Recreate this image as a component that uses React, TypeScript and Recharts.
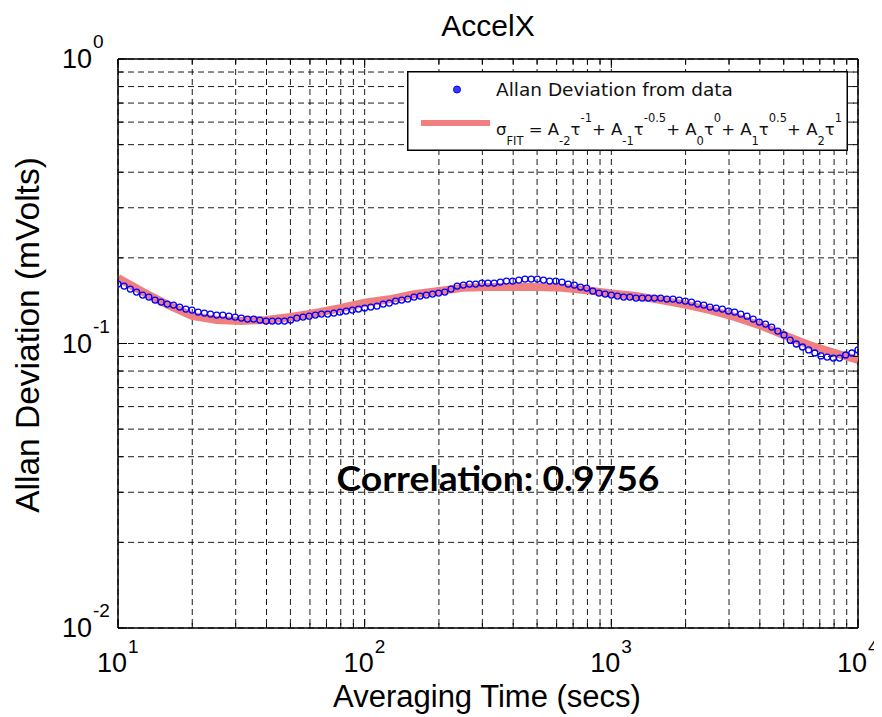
import React from 'react';
import {
  ComposedChart,
  Scatter,
  Line,
  XAxis,
  YAxis,
  CartesianGrid,
  ReferenceLine,
  Legend,
} from 'recharts';

// ---- data ----
const tauData = [
  10, 10.59, 11.22, 11.89, 12.59, 13.34, 14.13, 14.96, 15.85, 16.79,
  17.78, 18.84, 19.95, 21.13, 22.39, 23.71, 25.12, 26.61, 28.18, 29.85,
  31.62, 33.5, 35.48, 37.58, 39.81, 42.17, 44.67, 47.32, 50.12, 53.09,
  56.23, 59.57, 63.1, 66.83, 70.79, 74.99, 79.43, 84.14, 89.13, 94.41,
  100, 105.9, 112.2, 118.9, 125.9, 133.4, 141.3, 149.6, 158.5, 167.9,
  177.8, 188.4, 199.5, 211.3, 223.9, 237.1, 251.2, 266.1, 281.8, 298.5,
  316.2, 335, 354.8, 375.8, 398.1, 421.7, 446.7, 473.2, 501.2, 530.9,
  562.3, 595.7, 631, 668.3, 707.9, 749.9, 794.3, 841.4, 891.3, 944.1,
  1000, 1059, 1122, 1189, 1259, 1334, 1413, 1496, 1585, 1679,
  1778, 1884, 1995, 2113, 2239, 2371, 2512, 2661, 2818, 2985,
  3162, 3350, 3548, 3758, 3981, 4217, 4467, 4732, 5012, 5309,
  5623, 5957, 6310, 6683, 7079, 7499, 7943, 8414, 8913, 9441, 10000,
];
const devValues = [
  0.1618, 0.1592, 0.1554, 0.1516, 0.148, 0.1456, 0.1421, 0.1398, 0.1376, 0.1365,
  0.1343, 0.1321, 0.1311, 0.129, 0.1279, 0.1269, 0.1259, 0.1259, 0.1248, 0.1238,
  0.1228, 0.1219, 0.1219, 0.1209, 0.1199, 0.1199, 0.1199, 0.1199, 0.1209, 0.1228,
  0.1238, 0.1248, 0.1259, 0.1269, 0.1269, 0.1279, 0.129, 0.13, 0.1311, 0.1321,
  0.1332, 0.1343, 0.1354, 0.1376, 0.1387, 0.141, 0.1421, 0.1433, 0.1456, 0.1468,
  0.148, 0.1492, 0.1504, 0.1516, 0.1554, 0.1592, 0.1605, 0.1618, 0.1618, 0.1631,
  0.1631, 0.1631, 0.1644, 0.1658, 0.1658, 0.1671, 0.1685, 0.1685, 0.1685, 0.1671,
  0.1658, 0.1658, 0.1644, 0.1618, 0.1605, 0.1579, 0.1566, 0.1529, 0.1504, 0.1492,
  0.148, 0.1468, 0.1456, 0.1456, 0.1444, 0.1444, 0.1444, 0.1444, 0.1444, 0.1433,
  0.1433, 0.1421, 0.141, 0.1398, 0.1376, 0.1365, 0.1343, 0.1332, 0.1321, 0.13,
  0.129, 0.1269, 0.1248, 0.1219, 0.1189, 0.117, 0.1142, 0.1106, 0.1071, 0.1028,
  0.0996, 0.0972, 0.0949, 0.0926, 0.0904, 0.0896, 0.0889, 0.0889, 0.0911, 0.0926, 0.0949,
];
const fitTau = [
  10, 12.59, 15.85, 19.95, 25.12, 31.62, 39.81, 50.12, 63.1, 79.43,
  100, 125.9, 158.5, 199.5, 251.2, 316.2, 398.1, 501.2, 631, 794.3,
  1000, 1259, 1585, 1995, 2512, 3162, 3981, 5012, 6310, 7943, 10000,
];
const fitValues = [
  0.17, 0.152, 0.137, 0.125, 0.121, 0.12, 0.121, 0.124, 0.128, 0.133,
  0.139, 0.143, 0.149, 0.153, 0.157, 0.158, 0.158, 0.158, 0.157, 0.154,
  0.15, 0.147, 0.142, 0.137, 0.131, 0.124, 0.116, 0.107, 0.099, 0.093, 0.0875,
];

const xTicks = [
  10, 20, 30, 40, 50, 60, 70, 80, 90,
  100, 200, 300, 400, 500, 600, 700, 800, 900,
  1000, 2000, 3000, 4000, 5000, 6000, 7000, 8000, 9000, 10000,
];
const xMajor = [10, 100, 1000, 10000];
const xExponents = ['1', '2', '3', '4'];

const yTicks = [
  0.01, 0.02, 0.03, 0.04, 0.05, 0.06, 0.07, 0.08, 0.09,
  0.1, 0.2, 0.3, 0.4, 0.5, 0.6, 0.7, 0.8, 0.9, 1,
];
const yMajor = [0.01, 0.1, 1];
const yExponents = ['-2', '-1', '0'];

const titleText = 'AccelX';
const xLabelText = 'Averaging Time (secs)';
const yLabelText = 'Allan Deviation (mVolts)';
const correlationText = 'Correlation: 0.9756';
const legendDataText = 'Allan Deviation from data';

const devData = tauData.map((tau, i) => ({ tau, v: devValues[i] }));
const fitData = fitTau.map((tau, i) => ({ tau, v: fitValues[i] }));

// ---- layout ----
const W = 874;
const H = 709;
const PLOT_LEFT = 110;
const PLOT_RIGHT = 850;
const PLOT_TOP = 51;
const PLOT_BOTTOM = 620;
const FONT = '"Liberation Sans", Arial, sans-serif';

const XTick = (props: any) => {
  const { x, payload } = props;
  const idx = xMajor.indexOf(payload.value);
  const len = idx >= 0 ? 9 : 5;
  return (
    <g>
      <line x1={x} x2={x} y1={PLOT_BOTTOM} y2={PLOT_BOTTOM - len} stroke="#000" />
      <line x1={x} x2={x} y1={PLOT_TOP} y2={PLOT_TOP + len} stroke="#000" />
      {idx >= 0 && (
        <g fontFamily={FONT} fill="#000">
          <text x={x + 9} y={PLOT_BOTTOM + 44} textAnchor="end" fontSize={27}>
            10
          </text>
          <text x={x + 10} y={PLOT_BOTTOM + 25} textAnchor="start" fontSize={19}>
            {xExponents[idx]}
          </text>
        </g>
      )}
    </g>
  );
};

const YTick = (props: any) => {
  const { y, payload } = props;
  const idx = yMajor.indexOf(payload.value);
  const len = idx >= 0 ? 9 : 5;
  return (
    <g>
      <line x1={PLOT_LEFT} x2={PLOT_LEFT + len} y1={y} y2={y} stroke="#000" />
      <line x1={PLOT_RIGHT} x2={PLOT_RIGHT - len} y1={y} y2={y} stroke="#000" />
      {idx >= 0 && (
        <g fontFamily={FONT} fill="#000">
          <text x={84} y={y + 9} textAnchor="end" fontSize={27}>
            10
          </text>
          <text x={85} y={y - 11} textAnchor="start" fontSize={19}>
            {yExponents[idx]}
          </text>
        </g>
      )}
    </g>
  );
};

const Marker = (props: any) => {
  const { cx, cy } = props;
  if (cx == null || cy == null) return null;
  return <circle cx={cx} cy={cy} r={3} fill="none" stroke="#0000ff" strokeWidth={1.3} />;
};

const LegendBox = () => {
  const base = 64;
  const sub = 74;
  const sup = 51;
  const m = 16.5;
  const s = 11.5;
  const seg = (t: string, kind: 'n' | 'b' | 'p', key: number) => (
    <tspan
      key={key}
      y={kind === 'n' ? base : kind === 'b' ? sub : sup}
      fontSize={kind === 'n' ? m : s}
    >
      {t}
    </tspan>
  );
  const parts: [string, 'n' | 'b' | 'p'][] = [
    ['σ', 'n'], ['FIT', 'b'], [' = A', 'n'], ['-2', 'b'], ['τ', 'n'], ['-1', 'p'],
    ['+ A', 'n'], ['-1', 'b'], ['τ', 'n'], ['-0.5', 'p'],
    ['+ A', 'n'], ['0', 'b'], ['τ', 'n'], ['0', 'p'],
    ['+ A', 'n'], ['1', 'b'], ['τ', 'n'], ['0.5', 'p'],
    ['+ A', 'n'], ['2', 'b'], ['τ', 'n'], ['1', 'p'],
  ];
  return (
    <svg width={441} height={80} style={{ display: 'block' }}>
      <rect x={0.75} y={0.75} width={439.5} height={78.5} fill="#fff" stroke="#000" strokeWidth={1.5} />
      <circle cx={50} cy={18.5} r={3.5} fill="#3a3aff" stroke="#0000ff" strokeWidth={1} />
      <line x1={14} x2={83} y1={52} y2={52} stroke="#F08080" strokeWidth={6} />
      <text x={89} y={25} fontFamily='"DejaVu Sans", sans-serif' fontSize={18.5} fill="#111">
        {legendDataText}
      </text>
      <text x={89} y={base} fontFamily='"DejaVu Sans", sans-serif' fill="#111" style={{ whiteSpace: 'pre' }}>
        {parts.map((p, i) => seg(p[0], p[1], i))}
      </text>
    </svg>
  );
};

export default function App() {
  return (
    <div style={{ width: W, height: H, position: 'relative' }}>
      <style>{'html, body { overflow: hidden; }'}</style>
      <ComposedChart
        width={W}
        height={H}
        margin={{ top: PLOT_TOP, right: W - PLOT_RIGHT, left: 0, bottom: 0 }}
        style={{ overflow: 'visible' }}
      >
        <CartesianGrid stroke="#000" strokeWidth={0.9} strokeDasharray="6 4" />
        <XAxis
          xAxisId={0}
          type="number"
          dataKey="tau"
          scale="log"
          domain={[10, 10000]}
          ticks={xTicks}
          interval={0}
          tick={XTick}
          tickLine={false}
          axisLine={{ stroke: '#000', strokeWidth: 1.5 }}
          height={H - PLOT_BOTTOM}
          allowDataOverflow
        />
        <YAxis
          yAxisId={0}
          type="number"
          scale="log"
          domain={[0.01, 1]}
          ticks={yTicks}
          interval={0}
          tick={YTick}
          tickLine={false}
          axisLine={{ stroke: '#000', strokeWidth: 1.5 }}
          width={PLOT_LEFT}
          allowDataOverflow
        />
        <ReferenceLine y={1} stroke="#000" strokeWidth={1.5} />
        <ReferenceLine x={10000} stroke="#000" strokeWidth={1.5} />
        <Scatter
          name="Allan Deviation from data"
          data={devData}
          dataKey="v"
          shape={Marker}
          isAnimationActive={false}
        />
        <Line
          name="fit"
          data={fitData}
          dataKey="v"
          type="linear"
          stroke="#F08080"
          strokeWidth={8}
          dot={false}
          activeDot={false}
          isAnimationActive={false}
        />
        <Legend
          layout="horizontal"
          verticalAlign="middle"
          align="center"
          wrapperStyle={{ left: 399, top: 63, width: 441, height: 80 }}
          content={() => <LegendBox />}
        />
        <text x={480} y={28} textAnchor="middle" fontFamily={FONT} fontSize={30} fill="#000">
          {titleText}
        </text>
        <text x={479} y={699} textAnchor="middle" fontFamily={FONT} fontSize={31} fill="#000">
          {xLabelText}
        </text>
        <text
          x={0}
          y={0}
          transform={`translate(31, 327) rotate(-90)`}
          textAnchor="middle"
          fontFamily={FONT}
          fontSize={33.5}
          fill="#000"
        >
          {yLabelText}
        </text>
        <text
          x={490}
          y={483}
          textAnchor="middle"
          fontFamily='Lato, "Open Sans", sans-serif'
          fontWeight={700}
          fontSize={34}
          textLength={323}
          lengthAdjust="spacingAndGlyphs"
          fill="#000"
        >
          {correlationText}
        </text>
      </ComposedChart>
    </div>
  );
}
